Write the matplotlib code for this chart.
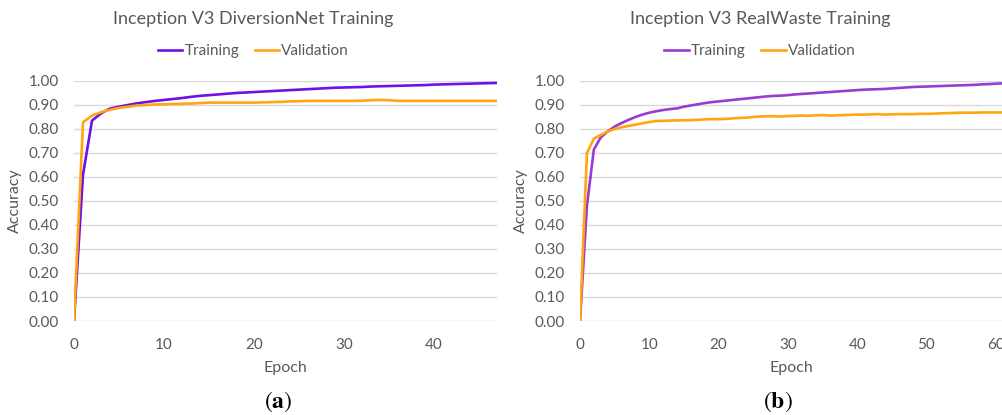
import matplotlib
matplotlib.use('Agg')
import matplotlib.pyplot as plt
import numpy as np

plt.rcParams['font.family'] = ['Lato', 'DejaVu Sans']
plt.rcParams['mathtext.fontset'] = 'stix'

GRAY = '#595959'
GRID = '#d9d9d9'
ORANGE = '#ffa50f'

# (a) DiversionNet, epochs 0..47
div_train = [0.0, 0.61, 0.835, 0.865, 0.885, 0.893, 0.90, 0.907, 0.912, 0.917,
             0.921, 0.925, 0.929, 0.934, 0.938, 0.941, 0.944, 0.947, 0.950, 0.952,
             0.954, 0.956, 0.958, 0.960, 0.962, 0.964, 0.966, 0.968, 0.970, 0.972,
             0.973, 0.974, 0.975, 0.977, 0.978, 0.979, 0.980, 0.981, 0.982, 0.983,
             0.985, 0.986, 0.987, 0.988, 0.989, 0.990, 0.991, 0.992]
div_val = [0.0, 0.828, 0.856, 0.870, 0.880, 0.888, 0.893, 0.898, 0.900, 0.902,
           0.903, 0.904, 0.905, 0.906, 0.908, 0.910, 0.910, 0.910, 0.910, 0.910,
           0.910, 0.911, 0.912, 0.913, 0.915, 0.916, 0.917, 0.917, 0.917, 0.917,
           0.917, 0.917, 0.918, 0.920, 0.921, 0.920, 0.917, 0.917, 0.917, 0.917,
           0.917, 0.917, 0.917, 0.917, 0.917, 0.917, 0.917, 0.917]

# (b) RealWaste, epochs 0..61
rw_train = [0.0, 0.48, 0.715, 0.765, 0.79, 0.81, 0.825, 0.838, 0.85, 0.86,
            0.868, 0.874, 0.879, 0.883, 0.886, 0.893, 0.898, 0.903, 0.908, 0.912,
            0.915, 0.918, 0.921, 0.924, 0.927, 0.930, 0.933, 0.936, 0.938, 0.939,
            0.941, 0.944, 0.946, 0.948, 0.950, 0.952, 0.954, 0.956, 0.958, 0.960,
            0.962, 0.964, 0.965, 0.966, 0.967, 0.969, 0.971, 0.973, 0.975, 0.976,
            0.977, 0.978, 0.979, 0.980, 0.981, 0.982, 0.983, 0.984, 0.986, 0.987,
            0.989, 0.990]
rw_val = [0.0, 0.70, 0.76, 0.775, 0.79, 0.80, 0.807, 0.813, 0.818, 0.824,
          0.829, 0.833, 0.834, 0.835, 0.836, 0.836, 0.837, 0.838, 0.840, 0.841,
          0.841, 0.842, 0.844, 0.846, 0.847, 0.850, 0.852, 0.853, 0.853, 0.852,
          0.854, 0.855, 0.856, 0.855, 0.857, 0.858, 0.856, 0.857, 0.858, 0.859,
          0.860, 0.860, 0.861, 0.862, 0.860, 0.861, 0.862, 0.862, 0.862, 0.863,
          0.863, 0.864, 0.865, 0.866, 0.867, 0.868, 0.868, 0.868, 0.869, 0.869,
          0.869, 0.869]

yticks = np.arange(0, 1.01, 0.1)

fig = plt.figure(figsize=(10.02, 4.15), dpi=100)

def style_axis(ax, xmax, xticks):
    ax.set_xlim(0, xmax)
    ax.set_ylim(0, 1.0)
    ax.set_yticks(yticks)
    ax.set_yticklabels(['%.2f' % v for v in yticks])
    ax.set_xticks(xticks)
    for s in ax.spines.values():
        s.set_visible(False)
    ax.grid(axis='y', color=GRID, linewidth=1)
    ax.set_axisbelow(True)
    ax.tick_params(length=0, labelsize=11, colors=GRAY)
    ax.tick_params(axis='x', pad=12)
    ax.tick_params(axis='y', pad=11)
    ax.set_xlabel('Epoch', fontsize=11.5, color=GRAY, labelpad=7)
    ax.set_ylabel('Accuracy', fontsize=11.5, color=GRAY, labelpad=5)

ax1 = fig.add_axes([74/1002, 1-321/415, 423/1002, 240/415])
ax1.plot(range(len(div_train)), div_train, color='#7010e8', lw=1.9, label='Training')
ax1.plot(range(len(div_val)), div_val, color=ORANGE, lw=1.9, label='Validation')
style_axis(ax1, 47, [0, 10, 20, 30, 40])

ax2 = fig.add_axes([580/1002, 1-321/415, 422/1002, 240/415])
ax2.plot(range(len(rw_train)), rw_train, color='#9a3bd0', lw=1.9, label='Training')
ax2.plot(range(len(rw_val)), rw_val, color=ORANGE, lw=1.9, label='Validation')
style_axis(ax2, 60.9, [0, 10, 20, 30, 40, 50, 60])

for ax, cx, title in [(ax1, 253.5, 'Inception V3 DiversionNet Training'),
                      (ax2, 760, 'Inception V3 RealWaste Training')]:
    fig.text(cx/1002, 1-19/415, title, ha='center', va='center', fontsize=13, color=GRAY)
    leg = ax.legend(loc='center', bbox_to_anchor=(cx/1002, 1-51/415),
                    bbox_transform=fig.transFigure, ncol=2, frameon=False,
                    fontsize=11, handlelength=1.6, handletextpad=0.15,
                    columnspacing=1.0, borderaxespad=0)
    for t in leg.get_texts():
        t.set_color(GRAY)

fig.text(278/1002, 1-402/415, r'$(\mathbf{a})$', ha='center', va='center', fontsize=17, color='black')
fig.text(778/1002, 1-402/415, r'$(\mathbf{b})$', ha='center', va='center', fontsize=17, color='black')

fig.savefig('out.png', dpi=100)
